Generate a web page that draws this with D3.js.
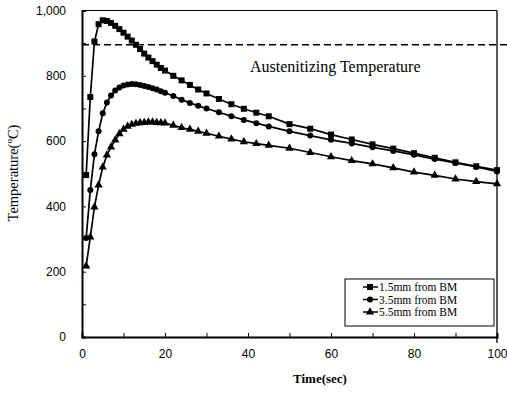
<!DOCTYPE html>
<html>
<head>
<meta charset="utf-8">
<script src="https://cdn.jsdelivr.net/npm/d3@7"></script>
<style>
  body { margin: 0; background: #fff; }
  svg { display: block; }
  .tick text { font-family: "Liberation Sans", Arial, sans-serif; font-size: 12px; fill: #000; }
</style>
</head>
<body>
<div id="chart"></div>
<script>
// frame size and plot margins
const WIDTH = 507;
const HEIGHT = 394;
const MARGINS = {left: 82, right: 10, top: 10.5, bottom: 57};
const VIS_W = WIDTH - MARGINS.left - MARGINS.right;
const VIS_H = HEIGHT - MARGINS.top - MARGINS.bottom;

// time points (sec)
const TIMES = [1, 2, 3, 4, 5, 6, 7, 8, 9, 10, 11, 12, 13, 14, 15, 16, 17, 18, 19, 20,
               22, 24, 26, 28, 30, 33, 36, 39, 42, 45,
               50, 55, 60, 65, 70, 75, 80, 85, 90, 95, 100];

// temperatures
const T_15 = [496, 735, 905, 958, 970, 968, 962, 953, 943, 932, 920, 908, 895, 882, 868, 856, 845, 834, 824, 816,
              800, 786, 772, 758, 746, 729, 713, 699, 687, 676,
              652, 638, 620, 605, 590, 577, 563, 549, 535, 523, 511];
const T_35 = [303, 450, 560, 630, 685, 718, 740, 755, 764, 770, 773, 775, 774, 772, 769, 766, 762, 758, 753, 748,
              738, 727, 717, 708, 700, 688, 676, 665, 655, 645,
              630, 617, 604, 593, 581, 570, 558, 545, 533, 521, 507];
const T_55 = [217, 306, 398, 465, 520, 557, 582, 603, 622, 636, 645, 651, 654, 656, 657, 658, 658, 657, 656, 655,
              648, 641, 636, 630, 624, 615, 606, 598, 592, 587,
              578, 565, 552, 540, 530, 518, 505, 495, 484, 476, 469];

const SERIES_NAMES = ["1.5mm from BM", "3.5mm from BM", "5.5mm from BM"];
const SERIES_MARKS = ["square", "circle", "triangle"];
const AUSTENITE = 895;

const X_TICKS = [0, 20, 40, 60, 80, 100];
const Y_TICKS = [0, 200, 400, 600, 800, 1000];

const SERIF = "'Liberation Serif', 'Times New Roman', serif";

const SVG = d3.select("#chart")
              .append("svg")
                .attr("width", WIDTH)
                .attr("height", HEIGHT);

const X_SCALE = d3.scaleLinear().domain([0, 100]).range([0, VIS_W]);
const Y_SCALE = d3.scaleLinear().domain([0, 1000]).range([VIS_H, 0]);

const PLOT = SVG.append("g")
                .attr("transform", "translate(" + MARGINS.left + "," + MARGINS.top + ")");

// top and right frame lines
PLOT.append("line")
    .attr("x1", 0).attr("x2", VIS_W).attr("y1", 0).attr("y2", 0)
    .attr("stroke", "#000").attr("stroke-width", 1);
PLOT.append("line")
    .attr("x1", VIS_W).attr("x2", VIS_W).attr("y1", 0).attr("y2", VIS_H + 6)
    .attr("stroke", "#000").attr("stroke-width", 1.3);

// x axis, ticks pointing in
const XAXIS = PLOT.append("g")
    .attr("transform", "translate(0," + VIS_H + ")")
    .call(d3.axisBottom(X_SCALE).tickValues(d3.range(0, 101, 10)).tickSize(-4).tickPadding(12)
            .tickFormat((d) => X_TICKS.includes(d) ? d : ""));
XAXIS.select(".domain").attr("stroke-width", 2);

// y axis, ticks pointing in
const YAXIS = PLOT.append("g")
    .call(d3.axisLeft(Y_SCALE).tickValues(d3.range(0, 1001, 100)).tickSize(-4).tickPadding(16)
            .tickFormat((d) => Y_TICKS.includes(d) ? d3.format(",")(d) : ""));
YAXIS.select(".domain").attr("stroke-width", 2);

// austenitizing temperature line
PLOT.append("line")
    .attr("x1", 0).attr("x2", VIS_W + 10)
    .attr("y1", Y_SCALE(AUSTENITE)).attr("y2", Y_SCALE(AUSTENITE))
    .attr("stroke", "#000").attr("stroke-width", 1.6)
    .attr("stroke-dasharray", "7,4");

PLOT.append("text")
    .attr("x", 168).attr("y", 61)
    .attr("font-family", SERIF)
    .attr("font-size", "16px")
    .text("Austenitizing Temperature");

// marker drawing
function drawMark(sel, kind) {
  if (kind === "square") {
    sel.append("rect").attr("x", -3).attr("y", -3).attr("width", 6).attr("height", 6);
  } else if (kind === "circle") {
    sel.append("circle").attr("r", 3);
  } else {
    sel.append("path").attr("d", d3.symbol().type(d3.symbolTriangle).size(30)());
  }
}

const LINE = d3.line()
               .x((d) => X_SCALE(d.t))
               .y((d) => Y_SCALE(d.v));

[T_15, T_35, T_55].forEach((vals, i) => {
  const data = TIMES.map((t, j) => ({t: t, v: vals[j]}));
  PLOT.append("path")
      .datum(data)
      .attr("d", LINE)
      .attr("fill", "none")
      .attr("stroke", "#000")
      .attr("stroke-width", 1.7);
  PLOT.selectAll(".mk" + i)
      .data(data)
      .enter()
      .append("g")
        .attr("class", "mk" + i)
        .attr("transform", (d) => "translate(" + X_SCALE(d.t) + "," + Y_SCALE(d.v) + ")")
        .each(function() { drawMark(d3.select(this), SERIES_MARKS[i]); });
});

// legend
const LEG = SVG.append("g").attr("transform", "translate(345,279)");
LEG.append("rect")
   .attr("width", 149).attr("height", 47)
   .attr("fill", "#fff").attr("stroke", "#000").attr("stroke-width", 1);
SERIES_NAMES.forEach((name, i) => {
  const row = LEG.append("g").attr("transform", "translate(0," + (8 + i * 12.5) + ")");
  row.append("line").attr("x1", 18).attr("x2", 33).attr("stroke", "#000").attr("stroke-width", 1.5);
  const m = row.append("g").attr("transform", "translate(25,0)");
  drawMark(m, SERIES_MARKS[i]);
  row.append("text")
     .attr("x", 34).attr("y", 4)
     .attr("font-family", SERIF)
     .attr("font-size", "11.5px")
     .text(name);
});

// axis titles
SVG.append("text")
   .attr("x", 320).attr("y", 383)
   .attr("text-anchor", "middle")
   .attr("font-family", SERIF)
   .attr("font-size", "13px")
   .attr("font-weight", "bold")
   .text("Time(sec)");

const YT = SVG.append("text")
   .attr("transform", "translate(18,173) rotate(-90)")
   .attr("text-anchor", "middle")
   .attr("font-family", SERIF)
   .attr("font-size", "14.5px");
YT.append("tspan").text("Temperature(");
YT.append("tspan").attr("font-size", "9px").attr("dy", -6).text("o");
YT.append("tspan").attr("dy", 6).text("C)");
</script>
</body>
</html>
